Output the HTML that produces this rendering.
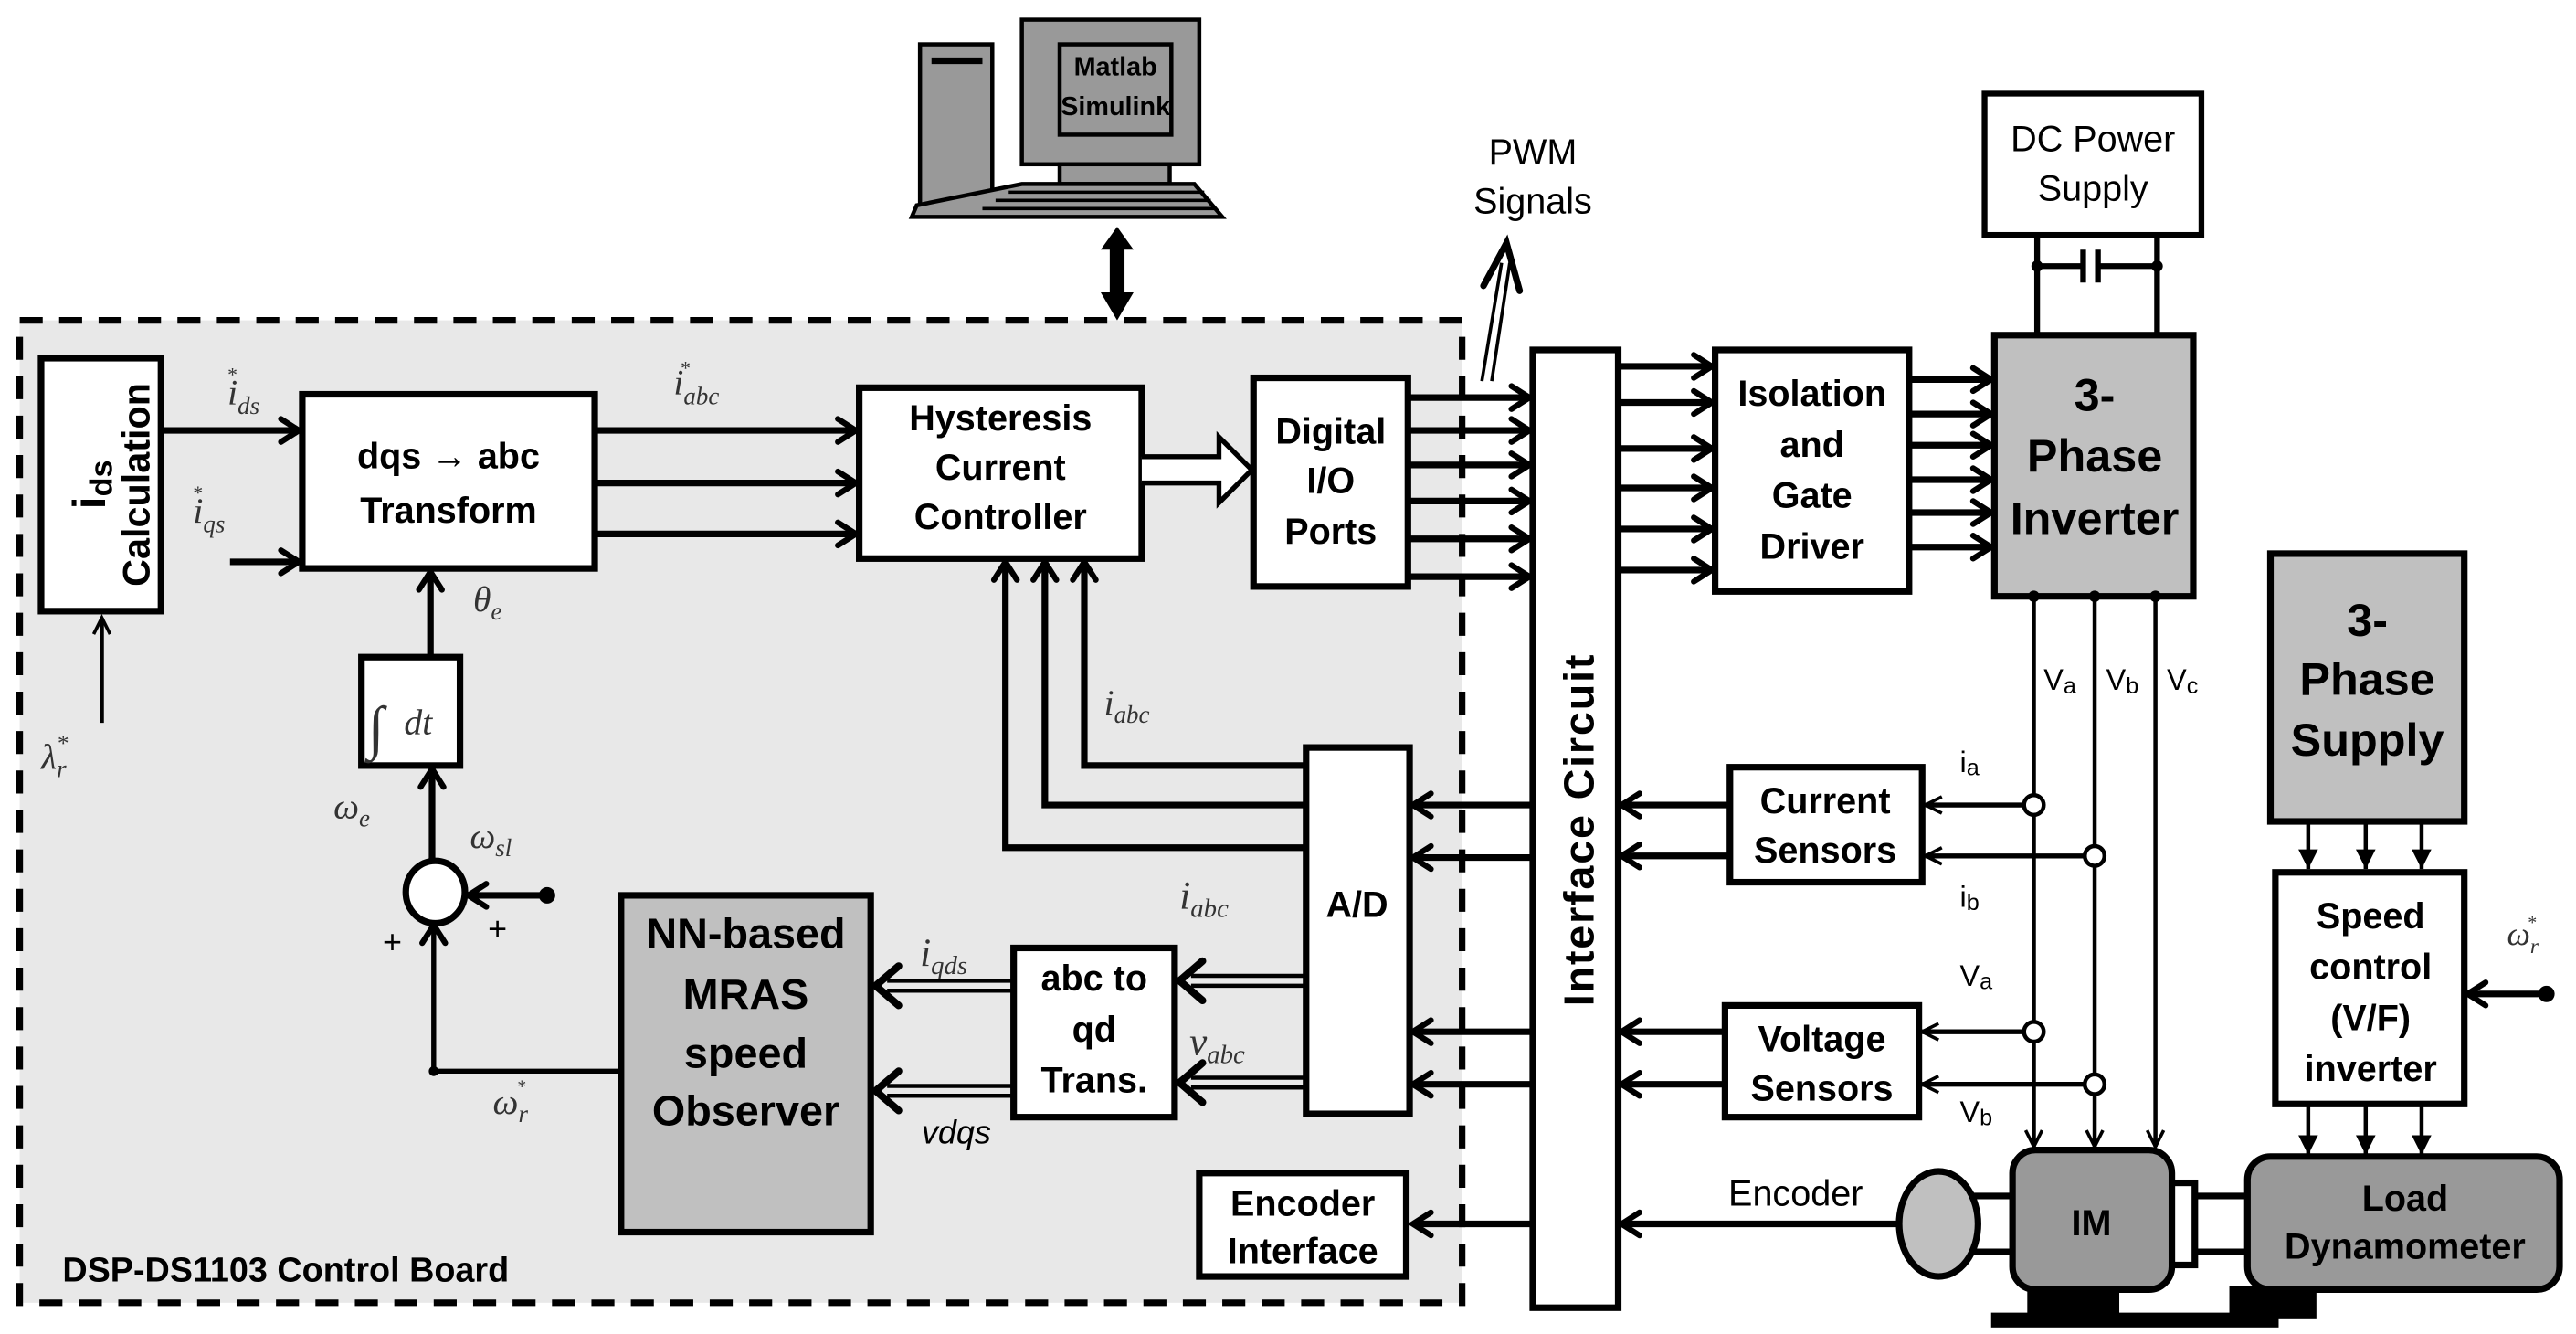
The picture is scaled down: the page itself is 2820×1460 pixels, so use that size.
<!DOCTYPE html>
<html><head><meta charset="utf-8"><style>
html,body{margin:0;padding:0;background:#fff;}
svg{display:block;}
text{font-family:"Liberation Sans",Arial,sans-serif;}
.b{font-weight:bold;}
.m{font-family:"Liberation Serif",serif;font-style:italic;fill:#333;}
</style></head><body>
<svg width="2820" height="1460" viewBox="0 0 1568 812" preserveAspectRatio="none" xmlns="http://www.w3.org/2000/svg">
<defs>
<marker id="a" markerUnits="userSpaceOnUse" markerWidth="20" markerHeight="20" refX="13" refY="8" orient="auto" overflow="visible">
<path d="M2,1 L13,8 L2,15" fill="none" stroke="#000" stroke-width="3.5" stroke-linecap="round"/></marker>
<marker id="t" markerUnits="userSpaceOnUse" markerWidth="14" markerHeight="14" refX="11" refY="5" orient="auto" overflow="visible">
<path d="M1,0 L11,5 L1,10" fill="none" stroke="#000" stroke-width="2"/></marker>
<marker id="f" markerUnits="userSpaceOnUse" markerWidth="14" markerHeight="14" refX="12" refY="6" orient="auto" overflow="visible">
<path d="M0,0 L12,6 L0,12Z" fill="#000"/></marker>
</defs>
<rect width="1568" height="812" fill="#fff"/>
<!-- board -->
<rect x="12" y="195" width="878" height="598" fill="#e8e8e8"/>
<rect x="12" y="195" width="878" height="598" fill="none" stroke="#000" stroke-width="4" stroke-dasharray="14 10"/>

<!-- computer -->
<rect x="560" y="27" width="44" height="100" fill="#999" stroke="#000" stroke-width="2.5"/>
<line x1="567" y1="37" x2="598" y2="37" stroke="#000" stroke-width="4"/>
<rect x="622" y="12" width="108" height="88" fill="#999" stroke="#000" stroke-width="2.5"/>
<rect x="645" y="27" width="68" height="55" fill="#999" stroke="#000" stroke-width="2.5"/>
<text x="679" y="46" class="b" font-size="16" text-anchor="middle">Matlab</text>
<text x="679" y="70" class="b" font-size="16" text-anchor="middle">Simulink</text>
<rect x="645" y="100" width="67" height="12" fill="#999" stroke="#000" stroke-width="2.5"/>
<path d="M622,112 L727,112 L744,132 L555,132 L558,125Z" fill="#999" stroke="#000" stroke-width="2.5"/>
<g stroke="#000" stroke-width="2"><line x1="614" y1="117" x2="733" y2="117"/><line x1="606" y1="122" x2="737" y2="122"/><line x1="598" y1="127" x2="740" y2="127"/></g>
<line x1="680" y1="150" x2="680" y2="180" stroke="#000" stroke-width="9"/>
<path d="M670,152 L680,138 L690,152Z M670,178 L680,195 L690,178Z" fill="#000"/>

<!-- ids calculation -->
<rect x="25" y="218" width="73" height="154" fill="#fff" stroke="#000" stroke-width="4"/>
<text transform="translate(91,295) rotate(-90)" class="b" font-size="23" text-anchor="middle">Calculation</text>
<text transform="translate(64,295) rotate(-90)" class="b" font-size="28" text-anchor="middle">i<tspan font-size="19" dy="4">ds</tspan></text>
<line x1="62" y1="440" x2="62" y2="376" stroke="#000" stroke-width="2.5" marker-end="url(#t)"/>
<text x="25" y="468" class="m" font-size="22">λ<tspan font-size="15" dy="5">r</tspan><tspan font-size="14" dx="-6" dy="-16">*</tspan></text>

<text x="138" y="246" class="m" font-size="22">i<tspan font-size="15" dy="6">ds</tspan><tspan font-size="12" dx="-20" dy="-20">*</tspan></text>
<line x1="98" y1="262" x2="182" y2="262" stroke="#000" stroke-width="4" marker-end="url(#a)"/>
<text x="117" y="318" class="m" font-size="22">i<tspan font-size="15" dy="6">qs</tspan><tspan font-size="12" dx="-20" dy="-20">*</tspan></text>
<line x1="140" y1="342" x2="182" y2="342" stroke="#000" stroke-width="4" marker-end="url(#a)"/>

<rect x="184" y="240" width="178" height="106" fill="#fff" stroke="#000" stroke-width="4"/>
<text x="273" y="285" class="b" font-size="22" text-anchor="middle">dqs → abc</text>
<text x="273" y="318" class="b" font-size="22" text-anchor="middle">Transform</text>

<g stroke="#000" stroke-width="4">
<line x1="362" y1="262" x2="521" y2="262" marker-end="url(#a)"/>
<line x1="362" y1="294" x2="521" y2="294" marker-end="url(#a)"/>
<line x1="362" y1="325" x2="521" y2="325" marker-end="url(#a)"/>
</g>
<text x="410" y="240" class="m" font-size="22">i<tspan font-size="15" dy="6">abc</tspan><tspan font-size="12" dx="-24" dy="-18">*</tspan></text>

<rect x="523" y="236" width="172" height="104" fill="#fff" stroke="#000" stroke-width="4"/>
<text x="609" y="262" class="b" font-size="22" text-anchor="middle">Hysteresis</text>
<text x="609" y="292" class="b" font-size="22" text-anchor="middle">Current</text>
<text x="609" y="322" class="b" font-size="22" text-anchor="middle">Controller</text>
<path d="M695,278 L742,278 L742,266 L762,286 L742,306 L742,294 L695,294" fill="#fff" stroke="#000" stroke-width="3"/>

<rect x="763" y="230" width="94" height="127" fill="#fff" stroke="#000" stroke-width="4"/>
<text x="810" y="270" class="b" font-size="22" text-anchor="middle">Digital</text>
<text x="810" y="300" class="b" font-size="22" text-anchor="middle">I/O</text>
<text x="810" y="331" class="b" font-size="22" text-anchor="middle">Ports</text>
<g stroke="#000" stroke-width="4">
<line x1="857" y1="242" x2="931" y2="242" marker-end="url(#a)"/>
<line x1="857" y1="262" x2="931" y2="262" marker-end="url(#a)"/>
<line x1="857" y1="283" x2="931" y2="283" marker-end="url(#a)"/>
<line x1="857" y1="305" x2="931" y2="305" marker-end="url(#a)"/>
<line x1="857" y1="328" x2="931" y2="328" marker-end="url(#a)"/>
<line x1="857" y1="351" x2="931" y2="351" marker-end="url(#a)"/>
</g>

<!-- PWM -->
<g stroke="#000" stroke-width="2" fill="none">
<line x1="902" y1="232" x2="914" y2="160"/><line x1="908" y1="232" x2="919" y2="160"/>
<path d="M903,174 L917,148 L925,177" stroke-width="4" stroke-linecap="round"/>
</g>
<text x="933" y="100" font-size="22" text-anchor="middle">PWM</text>
<text x="933" y="130" font-size="22" text-anchor="middle">Signals</text>

<!-- Interface -->
<rect x="933" y="213" width="52" height="583" fill="#fff" stroke="#000" stroke-width="4"/>
<text transform="translate(970,505) rotate(-90)" class="b" font-size="26" text-anchor="middle" letter-spacing="1">Interface Circuit</text>
<g stroke="#000" stroke-width="4">
<line x1="985" y1="223" x2="1042" y2="223" marker-end="url(#a)"/>
<line x1="985" y1="245" x2="1042" y2="245" marker-end="url(#a)"/>
<line x1="985" y1="273" x2="1042" y2="273" marker-end="url(#a)"/>
<line x1="985" y1="297" x2="1042" y2="297" marker-end="url(#a)"/>
<line x1="985" y1="322" x2="1042" y2="322" marker-end="url(#a)"/>
<line x1="985" y1="347" x2="1042" y2="347" marker-end="url(#a)"/>
</g>
<rect x="1044" y="213" width="118" height="147" fill="#fff" stroke="#000" stroke-width="4"/>
<text x="1103" y="247" class="b" font-size="22" text-anchor="middle">Isolation</text>
<text x="1103" y="278" class="b" font-size="22" text-anchor="middle">and</text>
<text x="1103" y="309" class="b" font-size="22" text-anchor="middle">Gate</text>
<text x="1103" y="340" class="b" font-size="22" text-anchor="middle">Driver</text>
<g stroke="#000" stroke-width="4">
<line x1="1162" y1="231" x2="1212" y2="231" marker-end="url(#a)"/>
<line x1="1162" y1="252" x2="1212" y2="252" marker-end="url(#a)"/>
<line x1="1162" y1="271" x2="1212" y2="271" marker-end="url(#a)"/>
<line x1="1162" y1="292" x2="1212" y2="292" marker-end="url(#a)"/>
<line x1="1162" y1="312" x2="1212" y2="312" marker-end="url(#a)"/>
<line x1="1162" y1="333" x2="1212" y2="333" marker-end="url(#a)"/>
</g>
<!-- DC supply -->
<rect x="1208" y="57" width="132" height="86" fill="#fff" stroke="#000" stroke-width="3.5"/>
<text x="1274" y="92" font-size="22" text-anchor="middle">DC Power</text>
<text x="1274" y="122" font-size="22" text-anchor="middle">Supply</text>
<g stroke="#000" stroke-width="3.5">
<line x1="1240" y1="143" x2="1240" y2="205"/><line x1="1313" y1="143" x2="1313" y2="205"/>
<line x1="1240" y1="162" x2="1268" y2="162"/><line x1="1277" y1="162" x2="1313" y2="162"/>
<line x1="1268" y1="152" x2="1268" y2="172"/><line x1="1277" y1="152" x2="1277" y2="172"/>
</g>
<circle cx="1240" cy="162" r="3.5"/><circle cx="1313" cy="162" r="3.5"/>
<!-- inverter -->
<rect x="1214" y="204" width="121" height="159" fill="#c0c0c0" stroke="#000" stroke-width="4"/>
<text x="1275" y="250" class="b" font-size="28" text-anchor="middle">3-</text>
<text x="1275" y="287" class="b" font-size="28" text-anchor="middle">Phase</text>
<text x="1275" y="325" class="b" font-size="28" text-anchor="middle">Inverter</text>
<g stroke="#000" stroke-width="2.5">
<line x1="1238" y1="363" x2="1238" y2="698" marker-end="url(#t)"/>
<line x1="1275" y1="363" x2="1275" y2="698" marker-end="url(#t)"/>
<line x1="1312" y1="363" x2="1312" y2="698" marker-end="url(#t)"/>
</g>
<circle cx="1238" cy="363" r="3.5"/><circle cx="1275" cy="363" r="3.5"/><circle cx="1312" cy="363" r="3.5"/>
<text x="1244" y="420" font-size="18">V<tspan font-size="14" dy="2">a</tspan></text>
<text x="1282" y="420" font-size="18">V<tspan font-size="14" dy="2">b</tspan></text>
<text x="1319" y="420" font-size="18">V<tspan font-size="14" dy="2">c</tspan></text>

<!-- sensors -->
<rect x="1053" y="467" width="117" height="70" fill="#fff" stroke="#000" stroke-width="4"/>
<text x="1111" y="495" class="b" font-size="22" text-anchor="middle">Current</text>
<text x="1111" y="525" class="b" font-size="22" text-anchor="middle">Sensors</text>
<rect x="1050" y="612" width="118" height="68" fill="#fff" stroke="#000" stroke-width="4"/>
<text x="1109" y="640" class="b" font-size="22" text-anchor="middle">Voltage</text>
<text x="1109" y="670" class="b" font-size="22" text-anchor="middle">Sensors</text>
<g stroke="#000" stroke-width="3">
<line x1="1232" y1="490" x2="1172" y2="490" marker-end="url(#t)"/>
<line x1="1269" y1="521" x2="1172" y2="521" marker-end="url(#t)"/>
<line x1="1232" y1="628" x2="1170" y2="628" marker-end="url(#t)"/>
<line x1="1269" y1="660" x2="1170" y2="660" marker-end="url(#t)"/>
</g>
<g fill="#fff" stroke="#000" stroke-width="2.5">
<circle cx="1238" cy="490" r="6"/><circle cx="1275" cy="521" r="6"/>
<circle cx="1238" cy="628" r="6"/><circle cx="1275" cy="660" r="6"/>
</g>
<text x="1193" y="470" font-size="18">i<tspan font-size="14" dy="2">a</tspan></text>
<text x="1193" y="552" font-size="18">i<tspan font-size="14" dy="2">b</tspan></text>
<text x="1193" y="600" font-size="18">V<tspan font-size="14" dy="2">a</tspan></text>
<text x="1193" y="683" font-size="18">V<tspan font-size="14" dy="2">b</tspan></text>
<g stroke="#000" stroke-width="4">
<line x1="1053" y1="490" x2="987" y2="490" marker-end="url(#a)"/>
<line x1="1053" y1="521" x2="987" y2="521" marker-end="url(#a)"/>
<line x1="1050" y1="628" x2="987" y2="628" marker-end="url(#a)"/>
<line x1="1050" y1="660" x2="987" y2="660" marker-end="url(#a)"/>
<line x1="933" y1="490" x2="860" y2="490" marker-end="url(#a)"/>
<line x1="933" y1="522" x2="860" y2="522" marker-end="url(#a)"/>
<line x1="933" y1="628" x2="860" y2="628" marker-end="url(#a)"/>
<line x1="933" y1="660" x2="860" y2="660" marker-end="url(#a)"/>
<line x1="933" y1="745" x2="860" y2="745" marker-end="url(#a)"/>
<line x1="1155" y1="745" x2="987" y2="745" marker-end="url(#a)"/>
</g>

<!-- A/D -->
<rect x="795" y="455" width="63" height="223" fill="#fff" stroke="#000" stroke-width="4"/>
<text x="826" y="558" class="b" font-size="22" text-anchor="middle">A/D</text>
<!-- encoder interface -->
<rect x="730" y="714" width="126" height="63" fill="#fff" stroke="#000" stroke-width="4"/>
<text x="793" y="740" class="b" font-size="22" text-anchor="middle">Encoder</text>
<text x="793" y="769" class="b" font-size="22" text-anchor="middle">Interface</text>
<text x="1093" y="734" font-size="22" text-anchor="middle">Encoder</text>

<!-- motor area -->
<g stroke="#000" stroke-width="4">
<line x1="1200" y1="728" x2="1227" y2="728"/><line x1="1200" y1="762" x2="1227" y2="762"/>
<line x1="1322" y1="728" x2="1368" y2="728"/><line x1="1322" y1="762" x2="1368" y2="762"/>
</g>
<rect x="1320" y="720" width="16" height="50" fill="#fff" stroke="#000" stroke-width="4"/>
<ellipse cx="1180" cy="745" rx="24" ry="32" fill="#c0c0c0" stroke="#000" stroke-width="4"/>
<rect x="1234" y="783" width="56" height="18" fill="#000"/>
<rect x="1212" y="799" width="175" height="9" fill="#000"/>
<rect x="1357" y="783" width="53" height="20" fill="#000"/>
<rect x="1225" y="700" width="97" height="85" rx="14" fill="#999" stroke="#000" stroke-width="4"/>
<text x="1273" y="752" class="b" font-size="22" text-anchor="middle">IM</text>
<rect x="1368" y="704" width="190" height="81" rx="14" fill="#999" stroke="#000" stroke-width="4"/>
<text x="1464" y="737" class="b" font-size="22" text-anchor="middle">Load</text>
<text x="1464" y="766" class="b" font-size="22" text-anchor="middle">Dynamometer</text>

<!-- 3-phase supply -->
<rect x="1382" y="337" width="118" height="163" fill="#c0c0c0" stroke="#000" stroke-width="4"/>
<text x="1441" y="387" class="b" font-size="28" text-anchor="middle">3-</text>
<text x="1441" y="423" class="b" font-size="28" text-anchor="middle">Phase</text>
<text x="1441" y="460" class="b" font-size="28" text-anchor="middle">Supply</text>
<g stroke="#000" stroke-width="2.5">
<line x1="1405" y1="500" x2="1405" y2="529" marker-end="url(#f)"/>
<line x1="1440" y1="500" x2="1440" y2="529" marker-end="url(#f)"/>
<line x1="1474" y1="500" x2="1474" y2="529" marker-end="url(#f)"/>
<line x1="1405" y1="672" x2="1405" y2="703" marker-end="url(#f)"/>
<line x1="1440" y1="672" x2="1440" y2="703" marker-end="url(#f)"/>
<line x1="1474" y1="672" x2="1474" y2="703" marker-end="url(#f)"/>
</g>
<rect x="1385" y="531" width="115" height="141" fill="#fff" stroke="#000" stroke-width="4"/>
<text x="1443" y="565" class="b" font-size="22" text-anchor="middle">Speed</text>
<text x="1443" y="596" class="b" font-size="22" text-anchor="middle">control</text>
<text x="1443" y="627" class="b" font-size="22" text-anchor="middle">(V/F)</text>
<text x="1443" y="658" class="b" font-size="22" text-anchor="middle">inverter</text>
<line x1="1550" y1="605" x2="1502" y2="605" stroke="#000" stroke-width="4" marker-end="url(#a)"/>
<circle cx="1550" cy="605" r="5"/>
<text x="1526" y="575" class="m" font-size="20">ω<tspan font-size="13" dy="5">r</tspan><tspan font-size="11" dx="-7" dy="-15">*</tspan></text>

<!-- feedback to hysteresis -->
<g stroke="#000" stroke-width="4" fill="none">
<path d="M795,516 L612,516 L612,342" marker-end="url(#a)"/>
<path d="M795,490 L636,490 L636,342" marker-end="url(#a)"/>
<path d="M795,466 L660,466 L660,342" marker-end="url(#a)"/>
</g>
<text x="672" y="435" class="m" font-size="22">i<tspan font-size="15" dy="5">abc</tspan></text>

<!-- integrator & sum -->
<rect x="220" y="400" width="60" height="66" fill="#fff" stroke="#000" stroke-width="4"/>
<text x="224" y="455" class="m" font-size="36" fill="#000">∫</text>
<text x="246" y="447" class="m" font-size="22">dt</text>
<g stroke="#000" stroke-width="4">
<line x1="262" y1="400" x2="262" y2="348" marker-end="url(#a)"/>
<line x1="263" y1="525" x2="263" y2="468" marker-end="url(#a)"/>
<line x1="333" y1="545" x2="285" y2="545" marker-end="url(#a)"/>
</g>
<path d="M378,652 L264,652 L264,563" fill="none" stroke="#000" stroke-width="3" marker-end="url(#a)"/>
<circle cx="264" cy="652" r="3"/>
<circle cx="333" cy="545" r="5"/>
<ellipse cx="265" cy="543" rx="18" ry="19" fill="#fff" stroke="#000" stroke-width="4"/>
<text x="288" y="372" class="m" font-size="22">θ<tspan font-size="15" dy="5">e</tspan></text>
<text x="203" y="498" class="m" font-size="22">ω<tspan font-size="15" dy="5">e</tspan></text>
<text x="286" y="516" class="m" font-size="22">ω<tspan font-size="15" dy="5">sl</tspan></text>
<text x="233" y="580" font-size="20">+</text>
<text x="297" y="572" font-size="20">+</text>
<text x="300" y="678" class="m" font-size="22">ω<tspan font-size="15" dy="5">r</tspan><tspan font-size="11" dx="-7" dy="-18">*</tspan></text>

<!-- NN observer -->
<rect x="378" y="545" width="152" height="205" fill="#c0c0c0" stroke="#000" stroke-width="4"/>
<text x="454" y="577" class="b" font-size="26" text-anchor="middle">NN-based</text>
<text x="454" y="614" class="b" font-size="26" text-anchor="middle">MRAS</text>
<text x="454" y="650" class="b" font-size="26" text-anchor="middle">speed</text>
<text x="454" y="685" class="b" font-size="26" text-anchor="middle">Observer</text>

<rect x="617" y="577" width="98" height="103" fill="#fff" stroke="#000" stroke-width="4"/>
<text x="666" y="603" class="b" font-size="22" text-anchor="middle">abc to</text>
<text x="666" y="634" class="b" font-size="22" text-anchor="middle">qd</text>
<text x="666" y="665" class="b" font-size="22" text-anchor="middle">Trans.</text>

<!-- double arrows -->
<g stroke="#000" fill="none">
<g stroke-width="2.5">
<line x1="540" y1="597" x2="617" y2="597"/><line x1="540" y1="603" x2="617" y2="603"/>
<line x1="540" y1="661" x2="617" y2="661"/><line x1="540" y1="667" x2="617" y2="667"/>
<line x1="725" y1="594" x2="795" y2="594"/><line x1="725" y1="600" x2="795" y2="600"/>
<line x1="725" y1="656" x2="795" y2="656"/><line x1="725" y1="662" x2="795" y2="662"/>
</g>
<g stroke-width="4.5" stroke-linecap="round">
<path d="M547,588 L533,600 L547,612"/>
<path d="M547,652 L533,664 L547,676"/>
<path d="M732,585 L718,597 L732,609"/>
<path d="M732,647 L718,659 L732,671"/>
</g></g>
<text x="560" y="588" class="m" font-size="24">i<tspan font-size="16" dy="5">qds</tspan></text>
<text x="561" y="696" font-size="20" font-style="italic">vdqs</text>
<text x="718" y="553" class="m" font-size="24">i<tspan font-size="16" dy="5">abc</tspan></text>
<text x="724" y="642" class="m" font-size="24">v<tspan font-size="16" dy="5">abc</tspan></text>

<text x="38" y="780" class="b" font-size="21">DSP-DS1103 Control Board</text>
</svg>
</body></html>
